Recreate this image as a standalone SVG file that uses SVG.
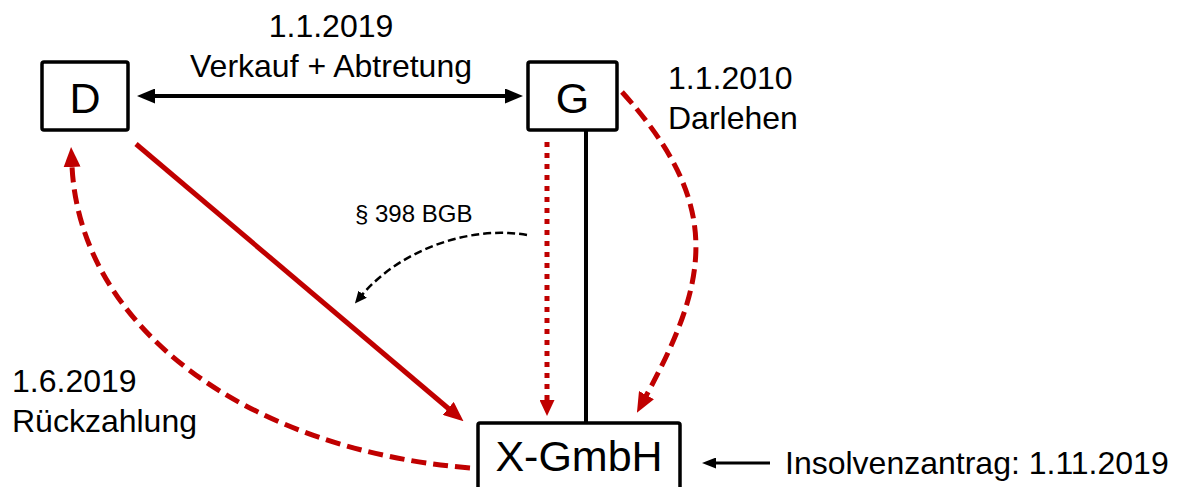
<svg xmlns="http://www.w3.org/2000/svg" width="1189" height="487" viewBox="0 0 1189 487">
<style>
text{font-family:"Liberation Sans",Arial,sans-serif;fill:#000}
.lbl{font-size:32px}
.big{font-size:43px;text-anchor:middle}
.box{fill:#fff;stroke:#000;stroke-width:3.5}
.red{fill:none;stroke:#C00000;stroke-width:5}
</style>
<defs>
<marker id="ab" viewBox="0 0 18 15" refX="1" refY="7.5" markerWidth="18" markerHeight="15" markerUnits="userSpaceOnUse" orient="auto-start-reverse"><path d="M0,0 L18,7.5 L0,15 z" fill="#000"/></marker>
<marker id="abs" viewBox="0 0 14 11" refX="1" refY="5.5" markerWidth="14" markerHeight="11" markerUnits="userSpaceOnUse" orient="auto"><path d="M0,0 L14,5.5 L0,11 z" fill="#000"/></marker>
<marker id="abd" viewBox="0 0 12 11" refX="1" refY="5.5" markerWidth="12" markerHeight="11" markerUnits="userSpaceOnUse" orient="auto"><path d="M0,0 L12,5.5 L0,11 z" fill="#000"/></marker>
<marker id="ar" viewBox="0 0 20 17" refX="1" refY="8.5" markerWidth="20" markerHeight="17" markerUnits="userSpaceOnUse" orient="auto"><path d="M0,0 L20,8.5 L0,17 z" fill="#C00000"/></marker>
<marker id="arp" viewBox="0 0 16 15" refX="1" refY="7.5" markerWidth="16" markerHeight="15" markerUnits="userSpaceOnUse" orient="auto"><path d="M0,0 L16,7.5 L0,15 z" fill="#C00000"/></marker>
</defs>
<g id="connectors">
<line x1="154" y1="96" x2="506" y2="96" stroke="#000" stroke-width="4" marker-start="url(#ab)" marker-end="url(#ab)"/>
<line x1="586" y1="130" x2="586" y2="423" stroke="#000" stroke-width="4"/>
<line x1="136" y1="144" x2="449" y2="409" class="red" marker-end="url(#ar)"/>
<line x1="547" y1="142" x2="547" y2="401" class="red" stroke-dasharray="5,6" marker-end="url(#arp)"/>
<path d="M622,92 C724,205 709,280 646,396" class="red" stroke-dasharray="15,7" marker-end="url(#ar)"/>
<path d="M470,468 C250,450 80,330 72,166" class="red" stroke-dasharray="15,7" marker-end="url(#ar)"/>
<path d="M527,235 C470,225 400,250 362,295" fill="none" stroke="#000" stroke-width="2.5" stroke-dasharray="8,4" marker-end="url(#abd)"/>
<line x1="770" y1="463" x2="715" y2="463" stroke="#000" stroke-width="3" marker-end="url(#abs)"/>
</g>
<g id="node-D"><rect x="42" y="62" width="86" height="68" rx="2" class="box"/><text x="85" y="113" class="big">D</text></g>
<g id="node-G"><rect x="528" y="62" width="89" height="68" rx="2" class="box"/><text x="572.5" y="113" class="big">G</text></g>
<g id="node-X"><rect x="478" y="423" width="202" height="80" rx="2" class="box"/><text x="579" y="471" class="big">X-GmbH</text></g>
<g id="labels">
<text x="331" y="37" class="lbl" text-anchor="middle">1.1.2019</text>
<text x="331" y="77" class="lbl" text-anchor="middle">Verkauf + Abtretung</text>
<text x="668" y="89" class="lbl">1.1.2010</text>
<text x="668" y="129" class="lbl">Darlehen</text>
<text x="12" y="392" class="lbl">1.6.2019</text>
<text x="12" y="432" class="lbl">Rückzahlung</text>
<text x="785" y="474" class="lbl">Insolvenzantrag: 1.11.2019</text>
<text x="355" y="222" font-size="24">§ 398 BGB</text>
</g>
</svg>
